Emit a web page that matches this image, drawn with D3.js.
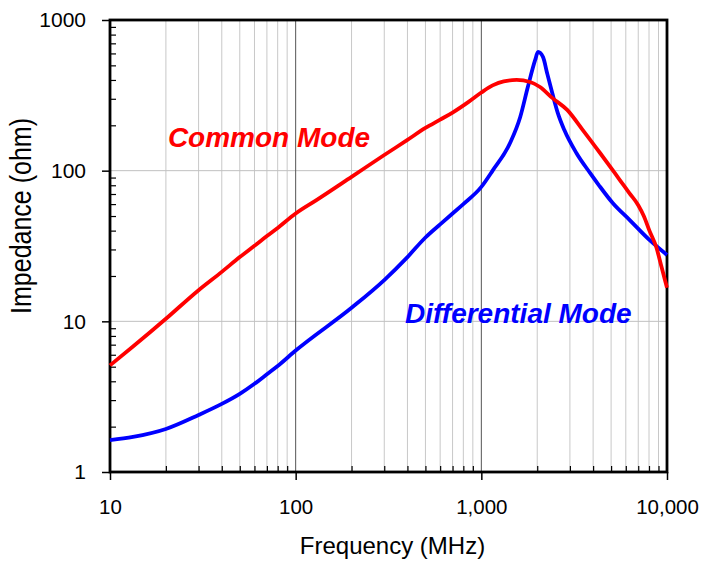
<!DOCTYPE html>
<html>
<head>
<meta charset="utf-8">
<script src="https://cdn.jsdelivr.net/npm/d3@7"></script>
<style>
  html, body { margin: 0; padding: 0; background: #fff; }
  svg { display: block; font-family: "Liberation Sans", Arial, sans-serif; }
</style>
</head>
<body>
<div id="chart"></div>
<script>
// Common mode curve (MHz, ohm)
const cmFreq = [10, 13.3, 20, 30, 40, 50, 60, 70, 80, 100, 130, 200, 300, 400, 500, 600, 700, 850, 1000, 1150, 1320, 1550, 1830, 2070, 2410, 2900, 3520, 4360, 5560, 6270, 7000, 7500, 8040, 8760, 9340, 10000]
const cmZ    = [5.1, 6.8, 10.4, 16.1, 21.3, 26.7, 31.7, 36.8, 41.7, 52, 64, 91, 127, 160, 192, 218, 243, 285, 330, 368, 392, 400, 388, 359, 304, 253, 186, 131, 87, 71, 59, 50, 40, 31, 23, 16.7]

// Differential mode curve (MHz, ohm)
const dmFreq = [10, 13.3, 20, 30, 40, 50, 60, 70, 80, 100, 200, 300, 400, 500, 600, 700, 800, 1000, 1150, 1430, 1620, 1780, 1950, 2020, 2150, 2260, 2410, 2580, 2800, 3250, 3840, 4300, 5100, 6300, 8040, 10000]
const dmZ    = [1.63, 1.71, 1.93, 2.39, 2.83, 3.3, 3.85, 4.45, 5.05, 6.4, 12.3, 18.8, 26.7, 36, 44, 52, 60, 78, 100, 153, 227, 359, 543, 614, 567, 445, 328, 242, 186, 131, 97, 80, 61, 47, 34.7, 27.6]

// Axis ticks
const xTicks = [10, 100, 1000, 10000]
const xTickLabels = ["10", "100", "1,000", "10,000"]
const yTicks = [1, 10, 100, 1000]
const yTickLabels = ["1", "10", "100", "1000"]

// Curve annotations
const labelNames = ["Common Mode", "Differential Mode"]
const labelFreq = [20.5, 388]
const labelZ = [143.5, 9.75]
const labelColors = ["#ff0000", "#0000ff"]

const width = 703, height = 565
const margin = { top: 20, right: 36, bottom: 93, left: 110 }
const innerW = width - margin.left - margin.right
const innerH = height - margin.top - margin.bottom

const svg = d3.select("#chart").append("svg")
    .attr("width", width)
    .attr("height", height)
    .attr("viewBox", [0, 0, width, height])

const g = svg.append("g").attr("transform", `translate(${margin.left},${margin.top})`)

const x = d3.scaleLog().domain([10, 10000]).range([0, innerW])
const y = d3.scaleLog().domain([1, 1000]).range([innerH, 0])

// minor values 2..9 per decade
const minorX = []
for (let d = 10; d < 10000; d *= 10) for (let k = 2; k <= 9; k++) minorX.push(d * k)
const minorY = []
for (let d = 1; d < 1000; d *= 10) for (let k = 2; k <= 9; k++) minorY.push(d * k)

// grid
g.append("g").selectAll("line").data(minorX).join("line")
    .attr("x1", d => x(d)).attr("x2", d => x(d))
    .attr("y1", 0).attr("y2", innerH)
    .attr("stroke", "#c8c8c8").attr("stroke-width", 1)

g.append("g").selectAll("line").data([10, 100]).join("line")
    .attr("x1", 0).attr("x2", innerW)
    .attr("y1", d => y(d)).attr("y2", d => y(d))
    .attr("stroke", "#c0c0c0").attr("stroke-width", 1)

g.append("g").selectAll("line").data([100, 1000]).join("line")
    .attr("x1", d => x(d)).attr("x2", d => x(d))
    .attr("y1", 0).attr("y2", innerH)
    .attr("stroke", "#555").attr("stroke-width", 1)

// minor ticks (inside)
g.append("g")
    .call(d3.axisLeft(y).tickValues(minorY).tickSize(-6).tickFormat(""))
    .call(a => a.select(".domain").remove())
    .call(a => a.selectAll(".tick line").attr("stroke", "#000").attr("stroke-width", 1.2))

g.append("g")
    .attr("transform", `translate(0,${innerH})`)
    .call(d3.axisBottom(x).tickValues(minorX).tickSize(-6).tickFormat(""))
    .call(a => a.select(".domain").remove())
    .call(a => a.selectAll(".tick line").attr("stroke", "#000").attr("stroke-width", 1.2))

// major ticks + labels
g.append("g")
    .call(d3.axisLeft(y).tickValues(yTicks).tickSize(8).tickPadding(16)
        .tickFormat((d, i) => yTickLabels[i]))
    .call(a => a.select(".domain").remove())
    .call(a => a.selectAll(".tick line").attr("stroke", "#000").attr("stroke-width", 1.5))
    .call(a => a.selectAll(".tick text").attr("fill", "#000").style("font-size", "21px")
        .style("font-family", "'Liberation Sans', Arial, sans-serif"))

g.append("g")
    .attr("transform", `translate(0,${innerH})`)
    .call(d3.axisBottom(x).tickValues(xTicks).tickSize(8).tickPadding(19)
        .tickFormat((d, i) => xTickLabels[i]))
    .call(a => a.select(".domain").remove())
    .call(a => a.selectAll(".tick line").attr("stroke", "#000").attr("stroke-width", 1.5))
    .call(a => a.selectAll(".tick text").attr("fill", "#000").style("font-size", "20.5px")
        .style("font-family", "'Liberation Sans', Arial, sans-serif"))

// frame
g.append("rect")
    .attr("x", 0).attr("y", 0).attr("width", innerW).attr("height", innerH)
    .attr("fill", "none").attr("stroke", "#000").attr("stroke-width", 2.8)

// curves
const line = d3.line()
    .x(d => x(d[0]))
    .y(d => y(d[1]))
    .curve(d3.curveMonotoneX)

const cmData = cmFreq.map((f, i) => [f, cmZ[i]])
const dmData = dmFreq.map((f, i) => [f, dmZ[i]])

g.append("path").datum(dmData)
    .attr("d", line)
    .attr("fill", "none").attr("stroke", "#0000ff").attr("stroke-width", 3.8)
    .attr("stroke-linejoin", "round")

g.append("path").datum(cmData)
    .attr("d", line)
    .attr("fill", "none").attr("stroke", "#ff0000").attr("stroke-width", 3.8)
    .attr("stroke-linejoin", "round")

// annotations
g.selectAll("text.curve-label")
    .data(labelNames)
    .join("text")
    .attr("class", "curve-label")
    .attr("x", (d, i) => x(labelFreq[i]))
    .attr("y", (d, i) => y(labelZ[i]))
    .attr("fill", (d, i) => labelColors[i])
    .style("font-size", "28px")
    .style("font-weight", "bold")
    .style("font-style", "italic")
    .text(d => d)

// axis titles
svg.append("text")
    .attr("x", margin.left + innerW / 2 + 4)
    .attr("y", 554)
    .attr("text-anchor", "middle")
    .attr("fill", "#000")
    .style("font-size", "24px")
    .text("Frequency (MHz)")

svg.append("text")
    .attr("transform", "translate(31,216) rotate(-90) scale(1,1.15)")
    .attr("text-anchor", "middle")
    .attr("fill", "#000")
    .style("font-size", "25px")
    .text("Impedance (ohm)")
</script>
</body>
</html>
